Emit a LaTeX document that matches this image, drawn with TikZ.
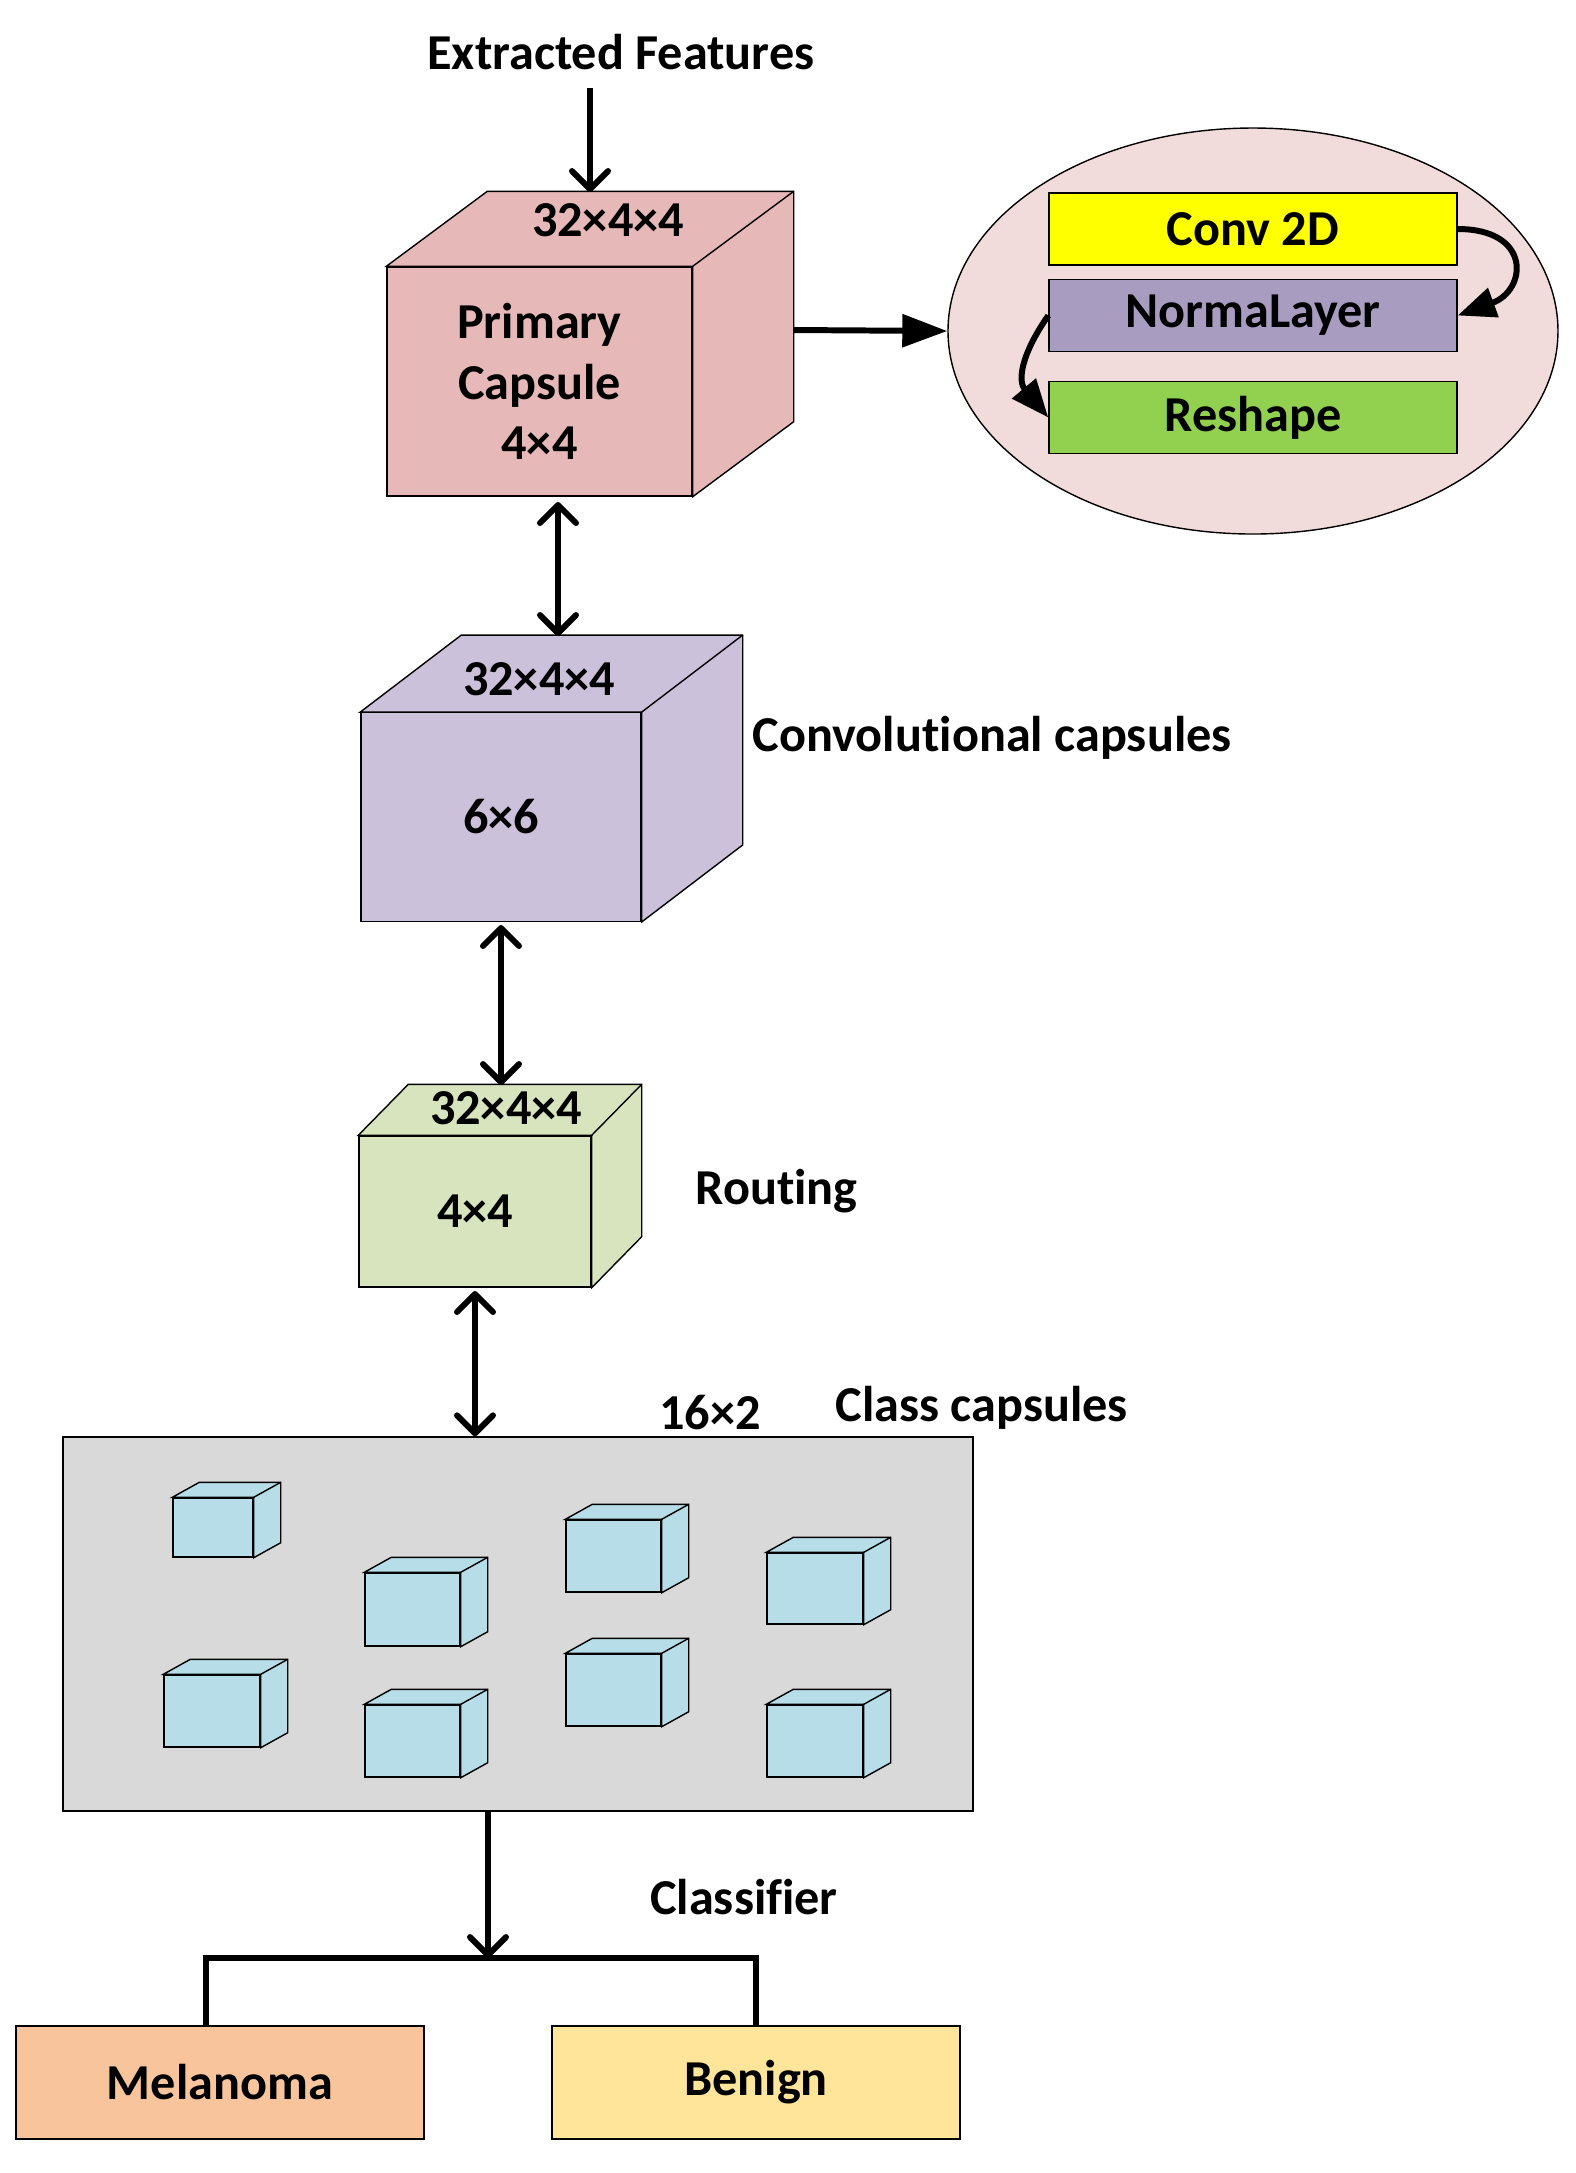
\documentclass[tikz,border=0pt]{standalone}
\usepackage{fontspec}
\setmainfont{Carlito}[Ligatures=NoCommon]
\usetikzlibrary{arrows.meta,shapes.geometric}

\definecolor{pcpink}{HTML}{E6B9B8}
\definecolor{convlilac}{HTML}{CCC1DA}
\definecolor{routegreen}{HTML}{D7E4BD}
\definecolor{opspink}{HTML}{F2DCDB}
\definecolor{convyellow}{HTML}{FFFF00}
\definecolor{normlilac}{HTML}{A99CC1}
\definecolor{reshgreen}{HTML}{92D050}
\definecolor{classgray}{HTML}{D9D9D9}
\definecolor{capblue}{HTML}{B7DEE8}
\definecolor{melorange}{HTML}{F8C49C}
\definecolor{benyellow}{HTML}{FFE599}

\newcommand{\txt}{\bfseries\fontsize{14.3}{17.3}\selectfont}

% top and right faces of a box whose front face is node #1
\newcommand{\cubefaces}[4]{%
  \draw[face,fill=#4] (#1.north west) -- ++(#2,#3) -- ([shift={(#2,#3)}]#1.north east)
    -- ([shift={(#2,#3)}]#1.south east) -- (#1.south east) -- (#1.north east) -- cycle;
  \draw[face] (#1.north east) -- ([shift={(#2,#3)}]#1.north east);
}

\begin{document}
\begin{tikzpicture}[x=0.1mm, y=-0.1mm,
  face/.style={draw=black, line width=0.4pt},
  block/.style={face, rectangle, inner sep=0pt, align=center, font=\txt},
  tag/.style={inner sep=0pt, font=\txt},
  link/.style={line width=1.7pt, -{Straight Barb[length=1.8mm,width=3.6mm,round]}},
  twoway/.style={line width=1.7pt, {Straight Barb[length=1.8mm,width=3.6mm,round]}-{Straight Barb[length=1.8mm,width=3.6mm,round]}},
  bigarrow/.style={line width=1.7pt, -{Triangle[length=4.5mm,width=3.2mm]}},
  curvearrow/.style={line width=1.7pt, -{Triangle[length=3.8mm,width=3mm]}},
  tree/.style={line width=1.5pt}]
  \useasboundingbox (0,0) rectangle (1576,2173);

  % input
  \node[tag] (feat) at (621,52) {Extracted Features};

  % primary capsule
  \node[block, fill=pcpink, minimum width=30.5mm, minimum height=22.9mm] (pc) at (539.5,381.5)
    {Primary\\Capsule\\4×4};
  \cubefaces{pc}{101}{-75}{pcpink}
  \node[tag] (pcsize) at (608,220) {32×4×4};

  % operations inside the primary capsule
  \node[ellipse, face, fill=opspink, minimum width=61mm, minimum height=40.6mm] (ops) at (1253,331) {};
  \node[block, fill=convyellow, minimum width=40.8mm, minimum height=7.2mm] (conv2d) at (1253,229) {Conv 2D};
  \node[block, fill=normlilac, minimum width=40.8mm, minimum height=7.2mm] (norm) at (1253,315.5) {NormaLayer};
  \node[block, fill=reshgreen, minimum width=40.8mm, minimum height=7.2mm] (resh) at (1253,417.5) {Reshape};

  % convolutional capsules
  \node[block, fill=convlilac, minimum width=28mm, minimum height=20.85mm] (conv) at (501,817) {6×6};
  \cubefaces{conv}{101}{-77}{convlilac}
  \node[tag] (convsize) at (539,679) {32×4×4};
  \node[tag, anchor=west] (convname) at (752,738) {Convolutional capsules};

  % routing
  \node[block, fill=routegreen, minimum width=23.2mm, minimum height=15.1mm] (route) at (475,1211.5) {4×4};
  \cubefaces{route}{50}{-51}{routegreen}
  \node[tag] (routesize) at (506,1108) {32×4×4};
  \node[tag, anchor=west] (routename) at (695,1191) {Routing};

  % class capsules
  \node[block, fill=classgray, minimum width=91mm, minimum height=37.4mm] (class) at (518,1624) {};
  \foreach \x/\y/\w/\h [count=\i] in {173/1498/80/59, 365/1573/95/73, 566/1520/95/72, 767/1553/96/71,
      164/1675/96/72, 365/1705/95/72, 566/1654/95/72, 767/1705/96/72} {
    \node[face, fill=capblue, inner sep=0pt, minimum width={\w*0.1mm}, minimum height={\h*0.1mm}]
      (cap\i) at (\x+\w/2,\y+\h/2) {};
    \cubefaces{cap\i}{27}{-15}{capblue}
  }
  \node[tag] (classsize) at (710,1413) {16×2};
  \node[tag, anchor=west] (classname) at (835,1408) {Class capsules};

  % outputs
  \node[tag] (clf) at (744,1897) {Classifier};
  \node[block, fill=melorange, minimum width=40.8mm, minimum height=11.3mm] (mel) at (220,2082.5) {Melanoma};
  \node[block, fill=benyellow, minimum width=40.8mm, minimum height=11.3mm] (ben) at (756,2082.5) {Benign};

  % connectors
  \coordinate (pctop) at (590,192);
  \coordinate (pcout) at (794,330);
  \coordinate (pcbot) at (558,502);
  \coordinate (convtop) at (558,636);
  \coordinate (convbot) at (501,925);
  \coordinate (routetop) at (501,1085);
  \coordinate (routebot) at (475,1291);
  \coordinate (split) at (488,1958);
  \draw[link] (590,88) -- (pctop);
  \draw[bigarrow] (pcout) -- (ops.west);
  \draw[curvearrow] (conv2d.east) to[out=0, in=20, looseness=2.2] (norm.east);
  \draw[curvearrow] (norm.west) to[out=235, in=130, looseness=1.2] (resh.west);
  \draw[twoway] (pcbot) -- (convtop);
  \draw[twoway] (convbot) -- (routetop);
  \draw[twoway] (routebot) -- (class.north -| routebot);
  \draw[link] (class.south -| split) -- (split);
  \draw[tree] ([xshift=-1.4mm]mel.north) |- (split) -| (ben.north);
\end{tikzpicture}
\end{document}
